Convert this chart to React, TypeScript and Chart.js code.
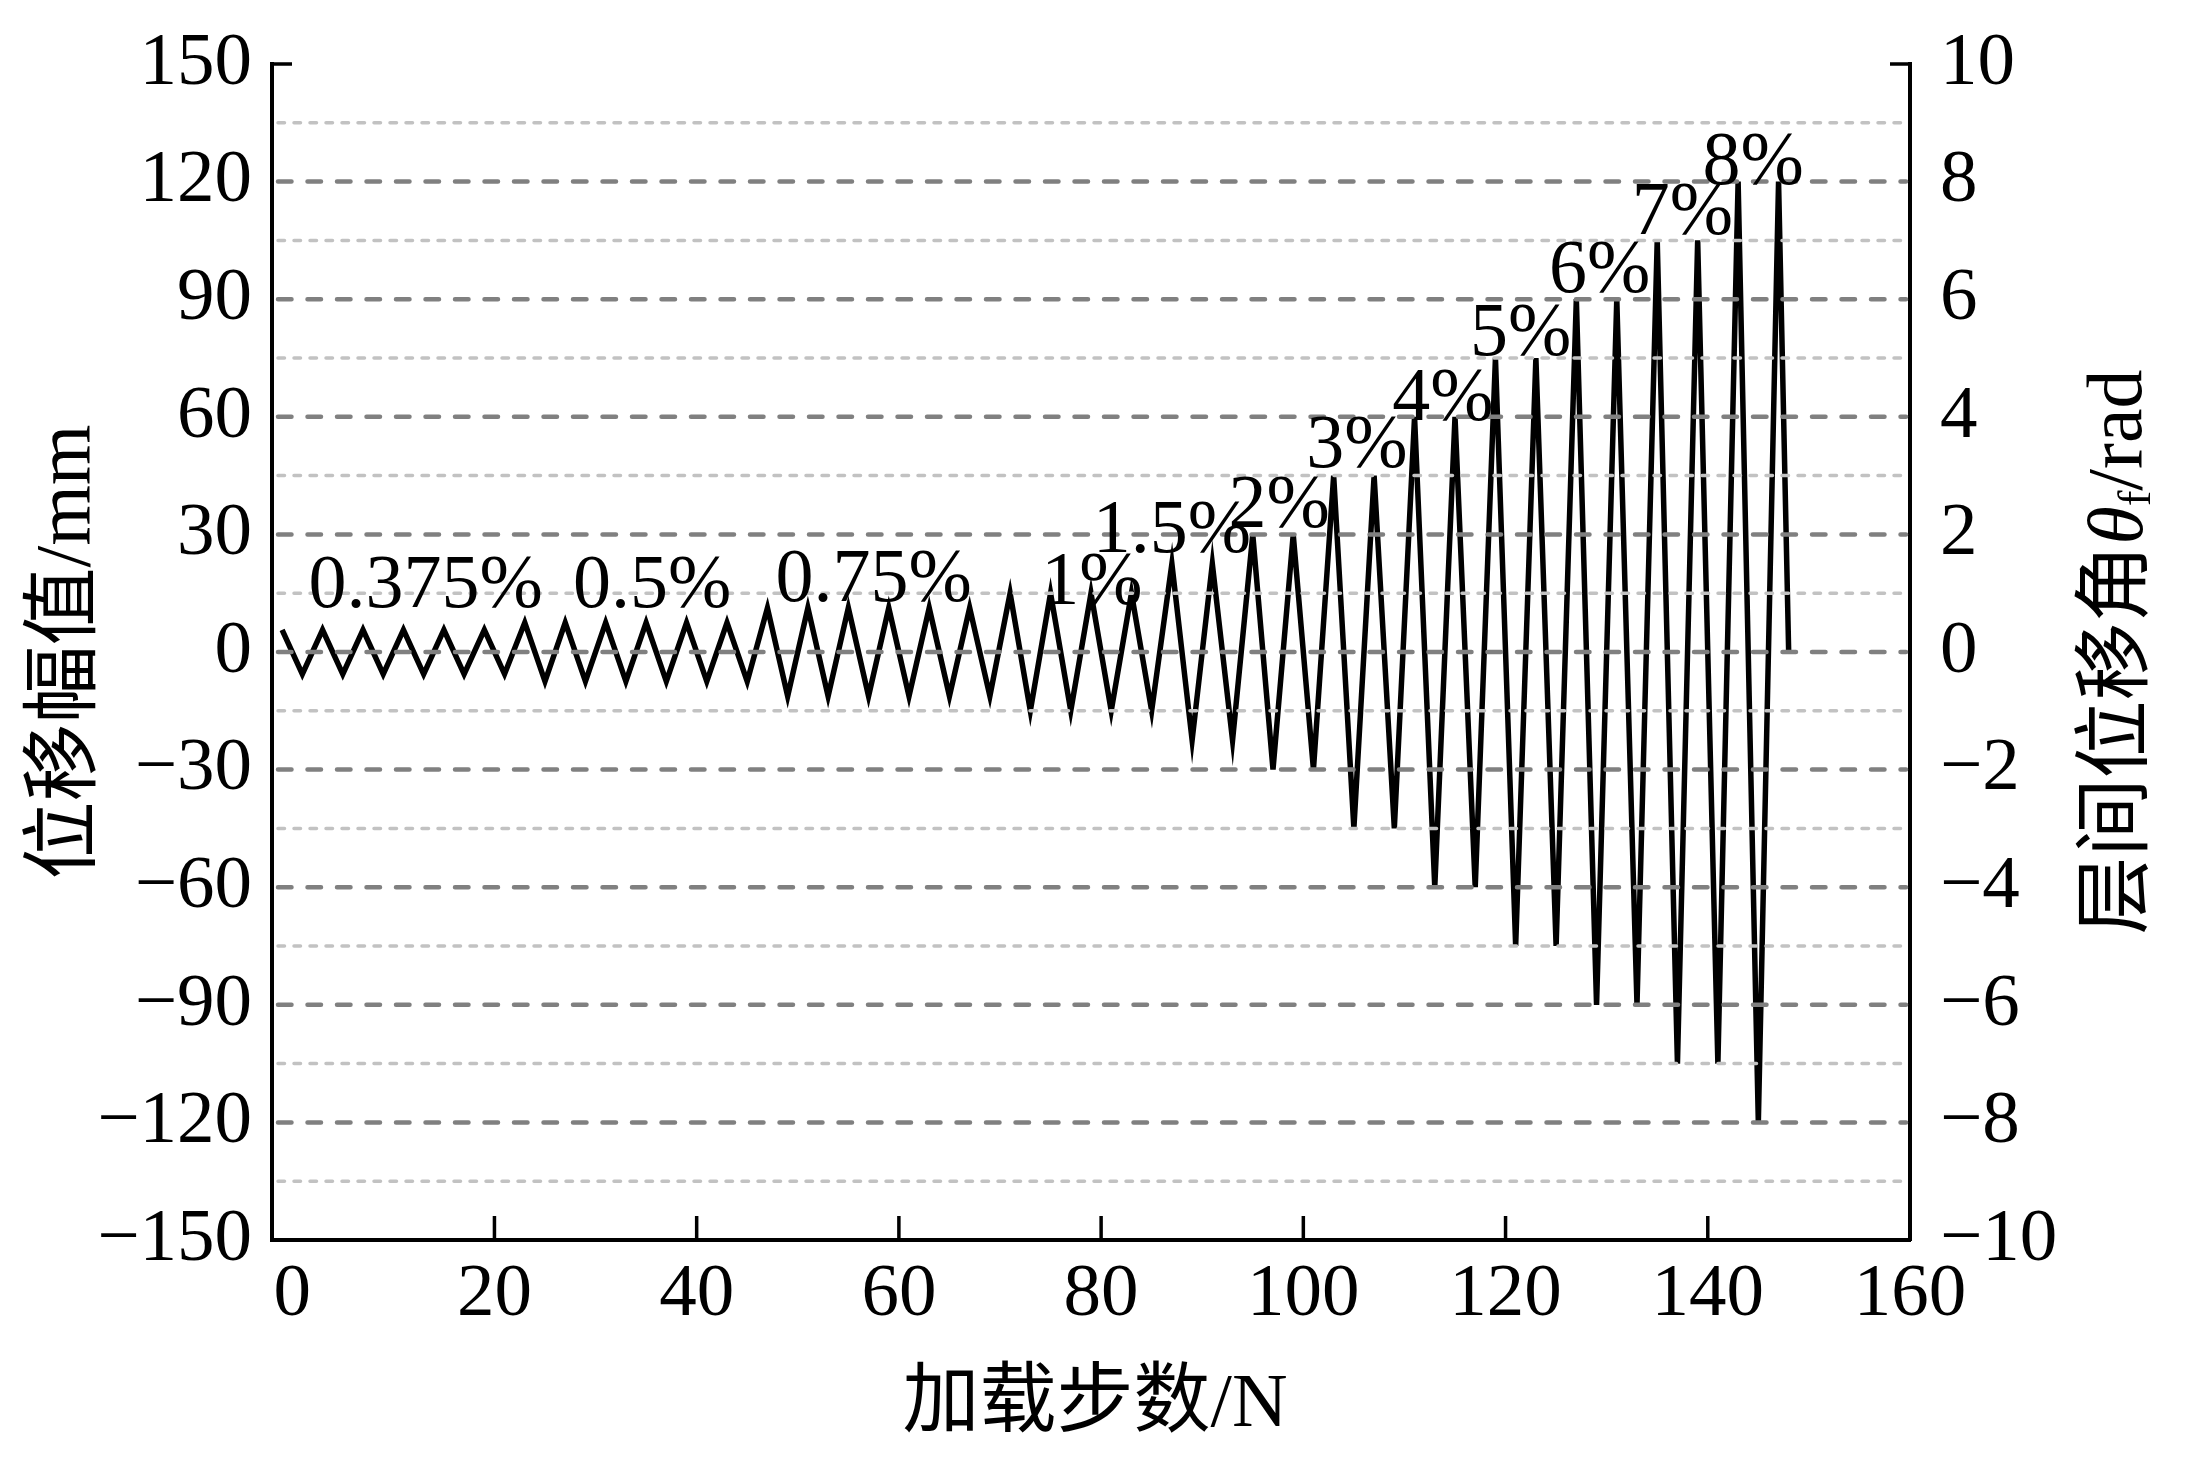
import { useEffect, useRef } from 'react';
import { Chart, registerables } from 'chart.js';

Chart.register(...registerables);

// ---- data ----
// load step of each turning point of the cyclic loading history
const stepX = [
  -1, 1, 3, 5, 7, 9, 11, 13, 15, 17, 19, 21,
  23, 25, 27, 29, 31, 33, 35, 37, 39, 41, 43, 45,
  47, 49, 51, 53, 55, 57, 59, 61, 63, 65, 67, 69,
  71, 73, 75, 77, 79, 81, 83, 85,
  87, 89, 91, 93,
  95, 97, 99, 101,
  103, 105, 107, 109,
  111, 113, 115, 117,
  119, 121, 123, 125,
  127, 129, 131, 133,
  135, 137, 139, 141,
  143, 145, 147, 148,
];
// displacement amplitude (mm) at each turning point
const displacement = [
  5.625, -5.625, 5.625, -5.625, 5.625, -5.625, 5.625, -5.625, 5.625, -5.625, 5.625, -5.625,
  7.5, -7.5, 7.5, -7.5, 7.5, -7.5, 7.5, -7.5, 7.5, -7.5, 7.5, -7.5,
  11.25, -11.25, 11.25, -11.25, 11.25, -11.25, 11.25, -11.25, 11.25, -11.25, 11.25, -11.25,
  15, -15, 15, -15, 15, -15, 15, -15,
  22.5, -22.5, 22.5, -22.5,
  30, -30, 30, -30,
  45, -45, 45, -45,
  60, -60, 60, -60,
  75, -75, 75, -75,
  90, -90, 90, -90,
  105, -105, 105, -105,
  120, -120, 120, 0,
];

// drift-level annotations: text, and anchor in data units (step, mm)
const levelLabels = ['0.375%', '0.5%', '0.75%', '1%', '1.5%', '2%', '3%', '4%', '5%', '6%', '7%', '8%'];
const labelStep = [13.2, 35.6, 57.5, 79.1, 87.0, 97.6, 105.3, 113.8, 121.5, 129.3, 137.5, 144.5];
const labelMm = [11.5, 11.5, 13.1, 12.3, 25.6, 31.9, 47.3, 59.2, 75.8, 91.9, 106.6, 119.4];

// axes
const xTickValues = [0, 20, 40, 60, 80, 100, 120, 140, 160];
const majorGridMm = [-120, -90, -60, -30, 0, 30, 60, 90, 120];
const minorGridMm = [-135, -105, -75, -45, -15, 15, 45, 75, 105, 135];

const xTitle = '加载步数/N';
const yTitle = '位移幅值/mm';
const y2TitleParts = ['层间位移角', 'θ', 'f', '/rad'];

const SERIF = '"Liberation Serif", "Times New Roman", serif';
const MIXED = '"Liberation Serif", "Noto Sans CJK SC", serif';

const fmtMinus = (v: number | string) => String(v).replace('-', '\u2212');

const overlayPlugin = {
  id: 'overlay',
  afterDatasetsDraw(chart: any) {
    const { ctx, chartArea: a, scales } = chart;
    const xs = scales.x;
    const ys = scales.y;
    ctx.save();
    // dashed grid lines, drawn over the data line as in the reference
    ctx.lineCap = 'round';
    ctx.strokeStyle = '#c2c2c2';
    ctx.lineWidth = 3.5;
    ctx.setLineDash([6.5, 9.5]);
    for (const v of minorGridMm) {
      const y = ys.getPixelForValue(v);
      ctx.beginPath();
      ctx.moveTo(a.left + 6, y);
      ctx.lineTo(a.right - 4, y);
      ctx.stroke();
    }
    ctx.strokeStyle = '#808080';
    ctx.lineWidth = 4.5;
    ctx.setLineDash([13.5, 16]);
    for (const v of majorGridMm) {
      const y = ys.getPixelForValue(v);
      ctx.beginPath();
      ctx.moveTo(a.left + 6, y);
      ctx.lineTo(a.right - 4, y);
      ctx.stroke();
    }
    ctx.setLineDash([]);
    ctx.lineCap = 'butt';
    // inner tick marks
    ctx.strokeStyle = '#000';
    ctx.lineWidth = 3.5;
    for (const t of xs.ticks) {
      if (t.value <= 0 || t.value >= xs.max) continue;
      const x = xs.getPixelForValue(t.value);
      ctx.beginPath();
      ctx.moveTo(x, a.bottom);
      ctx.lineTo(x, a.bottom - 24);
      ctx.stroke();
    }
    ctx.beginPath();
    ctx.moveTo(a.left, a.top);
    ctx.lineTo(a.left + 20, a.top);
    ctx.moveTo(a.right, a.top);
    ctx.lineTo(a.right - 20, a.top);
    ctx.stroke();
    // drift level annotations
    ctx.fillStyle = '#000';
    ctx.font = `76px ${SERIF}`;
    ctx.textAlign = 'center';
    ctx.textBaseline = 'alphabetic';
    levelLabels.forEach((t, i) => {
      ctx.fillText(t, xs.getPixelForValue(labelStep[i]), ys.getPixelForValue(labelMm[i]));
    });
    ctx.restore();
  },
  afterDraw(chart: any) {
    const { ctx, chartArea: a } = chart;
    const cy = (a.top + a.bottom) / 2;
    ctx.save();
    ctx.fillStyle = '#000';
    ctx.textBaseline = 'middle';
    // x title
    ctx.font = `77px ${MIXED}`;
    ctx.textAlign = 'center';
    ctx.fillText(xTitle, (a.left + a.right) / 2 + 4, a.bottom + 166);
    // left title
    ctx.save();
    ctx.translate(a.left - 203, cy);
    ctx.rotate(-Math.PI / 2);
    ctx.font = `78px ${MIXED}`;
    ctx.fillText(yTitle, 0, 0);
    ctx.restore();
    // right title with italic theta and subscript f
    const fonts = [`78px ${MIXED}`, `italic 78px ${SERIF}`, `47px ${SERIF}`, `78px ${SERIF}`];
    const dys = [0, 0, 17, 0];
    const widths = y2TitleParts.map((p, i) => {
      ctx.font = fonts[i];
      return ctx.measureText(p).width;
    });
    const total = widths.reduce((s, w) => s + w, 0);
    ctx.save();
    ctx.translate(a.right + 211, cy);
    ctx.rotate(-Math.PI / 2);
    ctx.textAlign = 'left';
    let x = -total / 2;
    y2TitleParts.forEach((p, i) => {
      ctx.font = fonts[i];
      ctx.fillText(p, x, dys[i]);
      x += widths[i];
    });
    ctx.restore();
    ctx.restore();
  },
};

export default function App() {
  const ref = useRef<HTMLCanvasElement | null>(null);
  useEffect(() => {
    if (!ref.current) return;
    const tickFont = { family: SERIF, size: 75 };
    const zeroPadV = (s: any) => {
      s.paddingTop = 0;
      s.paddingBottom = 0;
    };
    const chart = new Chart(ref.current, {
      type: 'line',
      data: {
        datasets: [
          {
            data: stepX.map((x, i) => ({ x, y: displacement[i] })),
            borderColor: '#000',
            borderWidth: 5.5,
            pointRadius: 0,
            tension: 0,
            fill: false,
            borderJoinStyle: 'miter',
            yAxisID: 'y',
          },
        ],
      },
      options: {
        responsive: false,
        animation: false,
        devicePixelRatio: 1,
        layout: { padding: { top: 64, left: 0, right: 0, bottom: 0 } },
        plugins: { legend: { display: false }, tooltip: { enabled: false } },
        scales: {
          x: {
            type: 'linear',
            min: -2,
            max: 160,
            afterBuildTicks: (s: any) => {
              s.ticks = xTickValues.map((v) => ({ value: v }));
            },
            afterFit: (s: any) => {
              s.height = 244;
              s.paddingLeft = 0;
              s.paddingRight = 0;
            },
            grid: { display: false, drawTicks: false },
            border: { display: true, color: '#000', width: 4 },
            ticks: { font: tickFont, color: '#000', padding: 10, maxRotation: 0, autoSkip: false },
          },
          y: {
            type: 'linear',
            position: 'left',
            min: -150,
            max: 150,
            afterFit: (s: any) => {
              s.width = 272;
              zeroPadV(s);
            },
            grid: { display: false, drawTicks: false },
            border: { display: true, color: '#000', width: 4 },
            ticks: { stepSize: 30, font: tickFont, color: '#000', padding: 20, autoSkip: false, callback: (v: any) => fmtMinus(v) },
          },
          y2: {
            type: 'linear',
            position: 'right',
            display: true,
            min: -10,
            max: 10,
            afterFit: (s: any) => {
              s.width = 285;
              zeroPadV(s);
            },
            grid: { display: false, drawTicks: false },
            border: { display: true, color: '#000', width: 4 },
            ticks: { stepSize: 2, font: tickFont, color: '#000', padding: 30, autoSkip: false, callback: (v: any) => fmtMinus(v) },
          },
        },
      },
      plugins: [overlayPlugin],
    } as any);
    return () => chart.destroy();
  }, []);
  return (
    <canvas
      ref={ref}
      width={2195}
      height={1484}
      style={{ position: 'absolute', left: 0, top: 0, display: 'block', background: '#fff' }}
    />
  );
}
